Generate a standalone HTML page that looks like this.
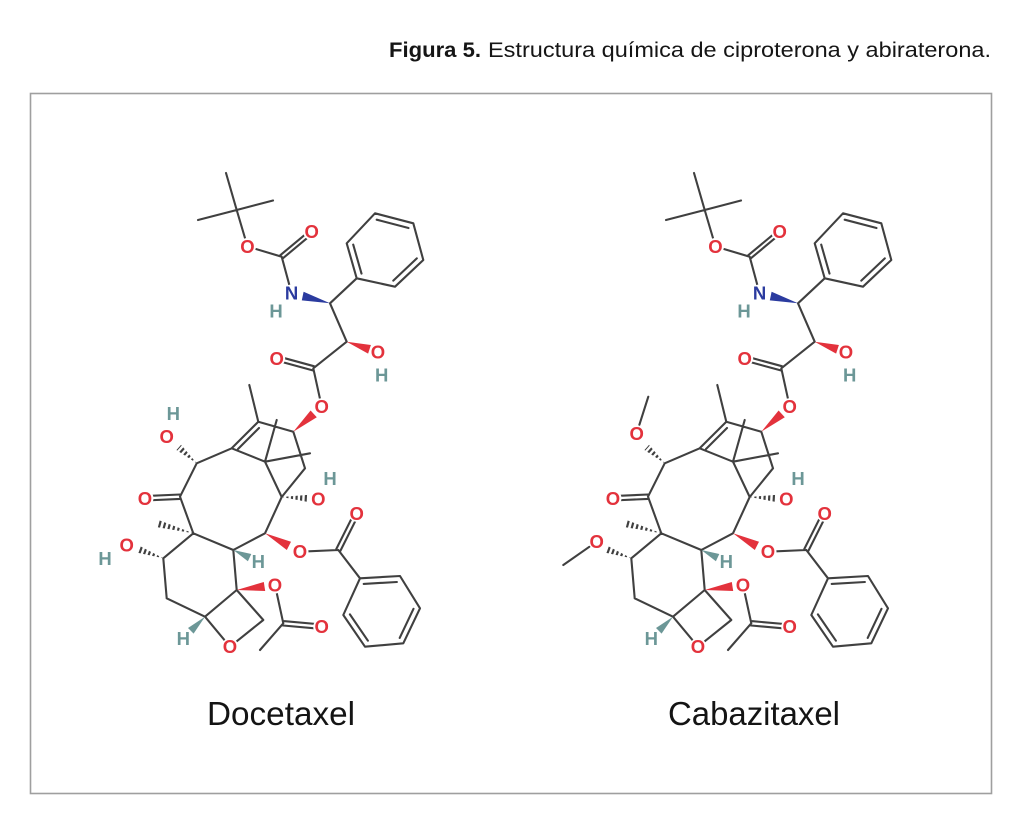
<!DOCTYPE html>
<html><head><meta charset="utf-8"><style>
html,body{margin:0;padding:0;background:#fff;}
svg{display:block;}
.b{fill:none;stroke:#404040;stroke-width:2.1;stroke-linecap:round;stroke-linejoin:round;}
.o{fill:#e3323c;}
.n{fill:#2b3b9f;}
.h{fill:#6c9797;}
.lab{font-family:"Liberation Sans",Arial,sans-serif;font-size:18.5px;font-weight:bold;text-anchor:middle;}
</style></head><body>
<svg width="1024" height="823" viewBox="0 0 1024 823" xmlns="http://www.w3.org/2000/svg">
<defs>
<mask id="m1" maskUnits="userSpaceOnUse" x="0" y="0" width="1024" height="823"><line x1="196.7" y1="463.3" x2="178.7" y2="447.4" stroke="#fff" stroke-width="10" stroke-dasharray="2.2 2.4"/></mask>
<mask id="m2" maskUnits="userSpaceOnUse" x="0" y="0" width="1024" height="823"><line x1="281.7" y1="497" x2="307.7" y2="498.4" stroke="#fff" stroke-width="10" stroke-dasharray="2.2 2.4"/></mask>
<mask id="m3" maskUnits="userSpaceOnUse" x="0" y="0" width="1024" height="823"><line x1="193.3" y1="533.3" x2="158.5" y2="523.8" stroke="#fff" stroke-width="10" stroke-dasharray="2.2 2.6"/></mask>
<mask id="m4" maskUnits="userSpaceOnUse" x="0" y="0" width="1024" height="823"><line x1="163.3" y1="558.3" x2="138.8" y2="549.4" stroke="#fff" stroke-width="10" stroke-dasharray="2.2 2.4"/></mask>
</defs>

<!-- Title -->
<text x="389" y="57" font-family="'Liberation Sans',Arial,sans-serif" font-size="21" font-weight="bold" fill="#151515" textLength="92" lengthAdjust="spacingAndGlyphs">Figura 5.</text>
<text x="488" y="57" font-family="'Liberation Sans',Arial,sans-serif" font-size="21" fill="#151515" textLength="503" lengthAdjust="spacingAndGlyphs">Estructura química de ciproterona y abiraterona.</text>

<!-- Frame -->
<rect x="30.5" y="93.5" width="961" height="700" fill="none" stroke="#9f9f9f" stroke-width="1.6"/>

<!-- ================= DOCETAXEL ================= -->
<g>
<path class="b" d="M236.7 210 L226 173 M236.7 210 L273 200.5 M236.7 210 L198 220 M236.7 210 L247.5 246.5
M247.5 246.5 L281.7 256.7
M280.3 255.2 L310.4 230.2 M283 258.2 L313 233.2
M281.7 256.7 L291.5 293
M330 303.3 L356.7 278.3
M356.7 278.3 L346.7 243.3 L375 213.3 L413.3 223.3 L423.3 260 L395 286.7 Z
M361.5 273.6 L353.2 244.6 M376.7 219.7 L408.5 228 M416.8 258.4 L393.3 280.6
M330 303.3 L346.7 341.7
M346.7 341.7 L313.3 368.3
M313.9 366.2 L277.3 356.2 M312.7 370.4 L276.1 360.4
M313.3 368.3 L321.7 406.7
M258.3 421.7 L249.3 385
M258.3 421.7 L231.7 448.3 M259 428 L238 449
M258.3 421.7 L293.3 431.7
M293.3 431.7 L305 468.3
M305 468.3 L281.7 497
M281.7 497 L265 461.7
M265 461.7 L231.7 448.3
M265 461.7 L276.7 420
M265 461.7 L310 453.3
M231.7 448.3 L196.7 463.3
M196.7 463.3 L180 496.7
M180 494.5 L145 496.1 M180 498.9 L145 500.5
M180 496.7 L193.3 533.3
M193.3 533.3 L163.3 558.3
M163.3 558.3 L166.7 598.3
M166.7 598.3 L205 616.7
M205 616.7 L230 646.7
M230 646.7 L263.3 620
M263.3 620 L236.7 590
M236.7 590 L205 616.7
M236.7 590 L233.3 550
M233.3 550 L193.3 533.3
M233.3 550 L265 533.3
M265 533.3 L281.7 497
M300 551.7 L338.3 550
M336.3 549 L354.7 512.3 M340.3 551 L358.7 514.3
M338.3 550 L360 578.3
M360 578.3 L400 576 L420 608.3 L403.3 643.3 L365 646.7 L343.3 615 Z
M363.7 583.9 L396.9 582 M413.5 608.8 L399.7 637.9 M367.9 640.7 L349.9 614.4
M275 585 L283.3 623.3
M283.5 621.1 L321.9 624.5 M283.1 625.5 L321.5 628.9
M283.3 623.3 L260 650"/>
<!-- wedges -->
<polygon class="n" points="330,303.3 303.6,291.8 301.8,300.4"/>
<polygon class="o" points="346.7,341.7 368.1,353.6 370.9,345"/>
<polygon class="o" points="293.3,431.7 316.8,417.3 310.6,410.5"/>
<polygon class="h" points="205,616.7 193.6,633.6 188,628"/>
<polygon class="h" points="233.3,550 247.9,561.2 251.3,554"/>
<polygon class="o" points="265,533.3 286.8,550 291,541.8"/>
<polygon class="o" points="236.7,590 265.2,591 263.8,582"/>
<!-- hashes -->
<polygon fill="#404040" mask="url(#m1)" points="196.7,463.3 181,444.8 176.4,450"/>
<polygon fill="#404040" mask="url(#m2)" points="281.7,497 307.5,501.9 307.9,494.9"/>
<polygon fill="#404040" mask="url(#m3)" points="193.3,533.3 159.4,520.4 157.6,527.2"/>
<polygon fill="#404040" mask="url(#m4)" points="163.3,558.3 140,546.1 137.6,552.7"/>
<!-- label backgrounds -->
<g fill="#fff">
<circle cx="247.5" cy="246.5" r="8.5"/><circle cx="311.7" cy="231.7" r="8.5"/><circle cx="291.5" cy="293" r="8.5"/>
<circle cx="276.7" cy="358.3" r="8.5"/><circle cx="321.7" cy="406.7" r="8.5"/><circle cx="145" cy="498.3" r="8.5"/>
<circle cx="230" cy="646.7" r="8.5"/><circle cx="300" cy="551.7" r="8.5"/><circle cx="356.7" cy="513.3" r="8.5"/>
<circle cx="275" cy="585" r="8.5"/><circle cx="321.7" cy="626.7" r="8.5"/>
</g>
<g class="lab">
<text class="o" x="247.5" y="253">O</text>
<text class="o" x="311.7" y="238.2">O</text>
<text class="n" x="291.5" y="299.5">N</text>
<text class="h" x="276" y="317.5">H</text>
<text class="o" x="378" y="358.5">O</text>
<text class="h" x="381.7" y="381.5">H</text>
<text class="o" x="276.7" y="364.8">O</text>
<text class="o" x="321.7" y="413.2">O</text>
<text class="o" x="166.7" y="443.2">O</text>
<text class="h" x="173.3" y="419.8">H</text>
<text class="o" x="145" y="504.8">O</text>
<text class="o" x="126.7" y="551.5">O</text>
<text class="h" x="105" y="564.8">H</text>
<text class="h" x="183.3" y="644.8">H</text>
<text class="o" x="230" y="653.2">O</text>
<text class="h" x="258.3" y="568.2">H</text>
<text class="o" x="318.3" y="505.5">O</text>
<text class="h" x="330" y="484.8">H</text>
<text class="o" x="300" y="558.2">O</text>
<text class="o" x="356.7" y="519.8">O</text>
<text class="o" x="275" y="591.5">O</text>
<text class="o" x="321.7" y="633.2">O</text>
</g>
</g>

<!-- ================= CABAZITAXEL ================= -->
<g transform="translate(468,0)">
<path class="b" d="M236.7 210 L226 173 M236.7 210 L273 200.5 M236.7 210 L198 220 M236.7 210 L247.5 246.5
M247.5 246.5 L281.7 256.7
M280.3 255.2 L310.4 230.2 M283 258.2 L313 233.2
M281.7 256.7 L291.5 293
M330 303.3 L356.7 278.3
M356.7 278.3 L346.7 243.3 L375 213.3 L413.3 223.3 L423.3 260 L395 286.7 Z
M361.5 273.6 L353.2 244.6 M376.7 219.7 L408.5 228 M416.8 258.4 L393.3 280.6
M330 303.3 L346.7 341.7
M346.7 341.7 L313.3 368.3
M313.9 366.2 L277.3 356.2 M312.7 370.4 L276.1 360.4
M313.3 368.3 L321.7 406.7
M258.3 421.7 L249.3 385
M258.3 421.7 L231.7 448.3 M259 428 L238 449
M258.3 421.7 L293.3 431.7
M293.3 431.7 L305 468.3
M305 468.3 L281.7 497
M281.7 497 L265 461.7
M265 461.7 L231.7 448.3
M265 461.7 L276.7 420
M265 461.7 L310 453.3
M231.7 448.3 L196.7 463.3
M196.7 463.3 L180 496.7
M180 494.5 L145 496.1 M180 498.9 L145 500.5
M180 496.7 L193.3 533.3
M193.3 533.3 L163.3 558.3
M163.3 558.3 L166.7 598.3
M166.7 598.3 L205 616.7
M205 616.7 L230 646.7
M230 646.7 L263.3 620
M263.3 620 L236.7 590
M236.7 590 L205 616.7
M236.7 590 L233.3 550
M233.3 550 L193.3 533.3
M233.3 550 L265 533.3
M265 533.3 L281.7 497
M300 551.7 L338.3 550
M336.3 549 L354.7 512.3 M340.3 551 L358.7 514.3
M338.3 550 L360 578.3
M360 578.3 L400 576 L420 608.3 L403.3 643.3 L365 646.7 L343.3 615 Z
M363.7 583.9 L396.9 582 M413.5 608.8 L399.7 637.9 M367.9 640.7 L349.9 614.4
M275 585 L283.3 623.3
M283.5 621.1 L321.9 624.5 M283.1 625.5 L321.5 628.9
M283.3 623.3 L260 650
M171.4 424.7 L180.3 396.7
M121.3 546.8 L95.3 565"/>
<polygon class="n" points="330,303.3 303.6,291.8 301.8,300.4"/>
<polygon class="o" points="346.7,341.7 368.1,353.6 370.9,345"/>
<polygon class="o" points="293.3,431.7 316.8,417.3 310.6,410.5"/>
<polygon class="h" points="205,616.7 193.6,633.6 188,628"/>
<polygon class="h" points="233.3,550 247.9,561.2 251.3,554"/>
<polygon class="o" points="265,533.3 286.8,550 291,541.8"/>
<polygon class="o" points="236.7,590 265.2,591 263.8,582"/>
<polygon fill="#404040" mask="url(#m1)" points="196.7,463.3 181,444.8 176.4,450"/>
<polygon fill="#404040" mask="url(#m2)" points="281.7,497 307.5,501.9 307.9,494.9"/>
<polygon fill="#404040" mask="url(#m3)" points="193.3,533.3 159.4,520.4 157.6,527.2"/>
<polygon fill="#404040" mask="url(#m4)" points="163.3,558.3 140,546.1 137.6,552.7"/>
<g fill="#fff">
<circle cx="247.5" cy="246.5" r="8.5"/><circle cx="311.7" cy="231.7" r="8.5"/><circle cx="291.5" cy="293" r="8.5"/>
<circle cx="276.7" cy="358.3" r="8.5"/><circle cx="321.7" cy="406.7" r="8.5"/><circle cx="145" cy="498.3" r="8.5"/>
<circle cx="230" cy="646.7" r="8.5"/><circle cx="300" cy="551.7" r="8.5"/><circle cx="356.7" cy="513.3" r="8.5"/>
<circle cx="275" cy="585" r="8.5"/><circle cx="321.7" cy="626.7" r="8.5"/>
</g>
<g class="lab">
<text class="o" x="247.5" y="253">O</text>
<text class="o" x="311.7" y="238.2">O</text>
<text class="n" x="291.5" y="299.5">N</text>
<text class="h" x="276" y="317.5">H</text>
<text class="o" x="378" y="358.5">O</text>
<text class="h" x="381.7" y="381.5">H</text>
<text class="o" x="276.7" y="364.8">O</text>
<text class="o" x="321.7" y="413.2">O</text>
<text class="o" x="168.7" y="439.8">O</text>
<text class="o" x="145" y="504.8">O</text>
<text class="o" x="128.7" y="548.2">O</text>
<text class="h" x="183.3" y="644.8">H</text>
<text class="o" x="230" y="653.2">O</text>
<text class="h" x="258.3" y="568.2">H</text>
<text class="o" x="318.3" y="505.5">O</text>
<text class="h" x="330" y="484.8">H</text>
<text class="o" x="300" y="558.2">O</text>
<text class="o" x="356.7" y="519.8">O</text>
<text class="o" x="275" y="591.5">O</text>
<text class="o" x="321.7" y="633.2">O</text>
</g>
</g>

<!-- Names -->
<text x="207" y="725" font-family="'Liberation Sans',Arial,sans-serif" font-size="33" fill="#141414" textLength="148" lengthAdjust="spacingAndGlyphs">Docetaxel</text>
<text x="668" y="725" font-family="'Liberation Sans',Arial,sans-serif" font-size="33" fill="#141414" textLength="172" lengthAdjust="spacingAndGlyphs">Cabazitaxel</text>
</svg>
</body></html>
